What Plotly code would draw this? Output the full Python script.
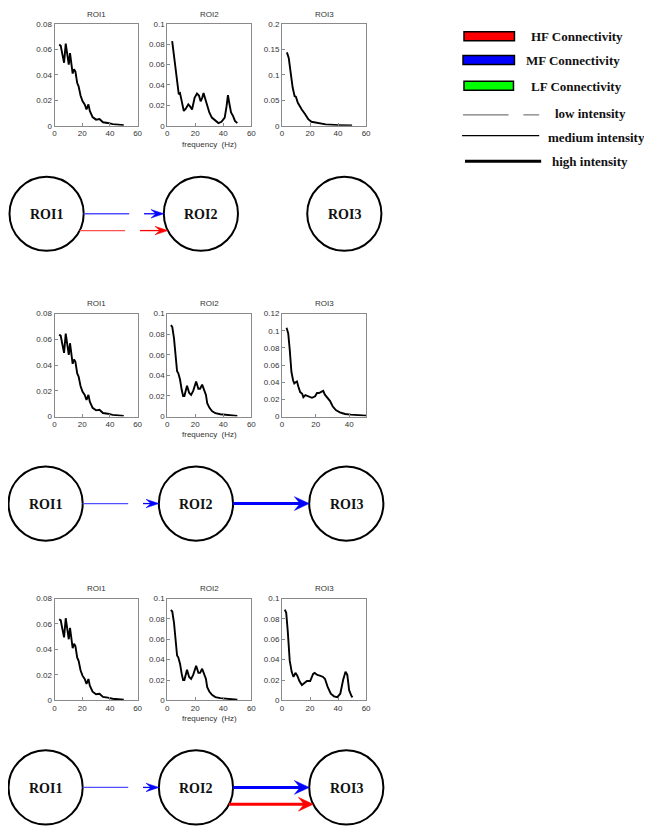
import plotly.graph_objects as go

# ---------------- data ----------------
roi1_freq = [3.4, 4.5, 5.5, 6.9, 8.1, 9.5, 10.3, 11.2, 12.2, 13.1, 14.1, 15.1, 16.4, 17.4,
             18.8, 20.2, 21.8, 23.1, 24.5, 25.5, 27.5, 30, 32.5, 35, 38.5, 42, 46, 50]
roi1_psd = [0.0637, 0.0628, 0.057, 0.0495, 0.0645, 0.0547, 0.048, 0.057, 0.050, 0.041,
            0.0444, 0.0426, 0.0335, 0.031, 0.0237, 0.0194, 0.0168, 0.0129, 0.0168, 0.0116,
            0.0068, 0.0048, 0.0052, 0.0027, 0.0022, 0.0013, 0.0009, 0.0005]

roi2_a_freq = [3.5, 4.8, 6.8, 8.2, 9.1, 10.3, 11.8, 13.2, 15, 16.4, 17.7, 19.5, 21.2, 22.6,
               23.8, 24.9, 25.9, 27.2, 28.5, 30, 31.8, 34.2, 36.5, 38.7, 41, 42.3, 43.3,
               44.2, 45.5, 46.9, 48.3, 50]
roi2_a_psd = [0.083, 0.068, 0.045, 0.031, 0.032, 0.024, 0.0145, 0.0168, 0.021, 0.0187,
              0.016, 0.0274, 0.0316, 0.0297, 0.024, 0.0274, 0.032, 0.026, 0.019, 0.013,
              0.008, 0.0048, 0.0026, 0.0039, 0.008, 0.019, 0.030, 0.0226, 0.013, 0.0097,
              0.0048, 0.0026]

roi2_b_freq = [2.6, 3.6, 4.8, 6, 7, 7.9, 9.1, 10.3, 11.3, 12.2, 14.1, 15.6, 17, 18.5, 20.6,
               22.2, 23.4, 24.9, 26.1, 27.6, 28.5, 30, 31.9, 34.3, 37.9, 41.5, 46.3, 50]
roi2_b_psd = [0.0888, 0.087, 0.076, 0.058, 0.044, 0.042, 0.036, 0.026, 0.020, 0.020, 0.030,
              0.023, 0.021, 0.025, 0.034, 0.027, 0.027, 0.031, 0.026, 0.021, 0.013, 0.0087,
              0.0054, 0.0032, 0.0022, 0.0019, 0.0013, 0.0006]

roi3_a_freq = [3.5, 4.8, 6.2, 7.6, 9, 9.9, 11.3, 12.7, 14.1, 16.4, 18.7, 21, 26.5, 31.2,
               40.4, 50]
roi3_a_psd = [0.144, 0.133, 0.104, 0.075, 0.058, 0.057, 0.045, 0.038, 0.032, 0.023, 0.013,
              0.0078, 0.0052, 0.0026, 0.0013, 0.0005]

roi3_b_freq = [2.7, 3.7, 4.6, 5.6, 6.6, 7.3, 8.1, 8.9, 9.7, 10.8, 12, 12.7, 13.9, 15.8, 17.8,
               19.7, 20.8, 22, 23.2, 24.5, 25.5, 27, 28.6, 30.1, 32, 34.4, 37.5, 40.9, 44.8, 50]
roi3_b_psd = [0.1035, 0.097, 0.078, 0.052, 0.042, 0.0386, 0.040, 0.041, 0.035, 0.0285,
              0.0266, 0.0225, 0.025, 0.0236, 0.0218, 0.0236, 0.0274, 0.0274, 0.029, 0.030,
              0.0255, 0.0218, 0.018, 0.012, 0.0075, 0.0049, 0.003, 0.0022, 0.0015, 0.0011]

roi3_c_freq = [2, 3, 4.1, 5.5, 6.9, 8.2, 9.6, 11, 12.4, 14.2, 16, 17.8, 20.1, 22.2, 23.3,
               25.2, 27.5, 29.3, 30.7, 32.5, 34.8, 37.1, 39.4, 41.6, 43.6, 45.3, 46.6, 47.9,
               49.5, 50.3]
roi3_c_psd = [0.089, 0.086, 0.068, 0.039, 0.028, 0.023, 0.027, 0.024, 0.019, 0.015, 0.017,
              0.019, 0.019, 0.026, 0.027, 0.025, 0.024, 0.023, 0.021, 0.0135, 0.0065, 0.004,
              0.0032, 0.0065, 0.020, 0.028, 0.025, 0.010, 0.0045, 0.003]

roi_names = ["ROI1", "ROI2", "ROI3"]
x_ticks = [0, 20, 40, 60]
x_label = "frequency  (Hz)"

# per row: (freq, psd) for ROI1..ROI3, y max, y tick step, x max
rows_data = [
    [(roi1_freq, roi1_psd), (roi2_a_freq, roi2_a_psd), (roi3_a_freq, roi3_a_psd)],
    [(roi1_freq, roi1_psd), (roi2_b_freq, roi2_b_psd), (roi3_b_freq, roi3_b_psd)],
    [(roi1_freq, roi1_psd), (roi2_b_freq, roi2_b_psd), (roi3_c_freq, roi3_c_psd)],
]
y_max = [[0.08, 0.1, 0.2], [0.08, 0.1, 0.12], [0.08, 0.1, 0.1]]
y_step = [[0.02, 0.02, 0.05], [0.02, 0.02, 0.02], [0.02, 0.02, 0.02]]
x_max = [[60, 60, 60], [60, 60, 50], [60, 60, 60]]

# connectivity per row: (source, target, band, intensity)
connections = [
    [("ROI1", "ROI2", "MF", "low"), ("ROI1", "ROI2", "HF", "low")],
    [("ROI1", "ROI2", "MF", "low"), ("ROI2", "ROI3", "MF", "high")],
    [("ROI1", "ROI2", "MF", "low"), ("ROI2", "ROI3", "MF", "high"), ("ROI2", "ROI3", "HF", "high")],
]
legend_bands = ["HF Connectivity", "MF Connectivity", "LF Connectivity"]
legend_intensity = ["low intensity", "medium intensity", "high intensity"]

# ---------------- layout constants (page pixels) ----------------
PAGE_W, PAGE_H = 652, 830
OFF = 8  # default body margin of the html page
W, H = PAGE_W - OFF, PAGE_H - OFF
col_px = [(53, 137), (167, 252), (283, 368)]
row_px = [(20, 123), (313, 417), (601, 704)]
title_y = [11, 303, 591]
xlabel_y = [142, 435, 722]
node_cx = [[45, 201, 346], [44, 196, 348], [44, 196, 348]]
node_cy = [212, 505, 792]
node_r = 37.5
band_color = {"HF": "#ff0000", "MF": "#0000ff", "LF": "#00ff00"}
band_light = {"HF": "rgb(255,80,80)", "MF": "rgb(80,80,255)", "LF": "rgb(80,255,80)"}
band_dy = {"MF": 0, "HF": 17, "LF": -17}

AX_COL = "#8a8a8a"
TXT_COL = "#333333"
SANS = "Liberation Sans, Arial, sans-serif"
SERIF = "Liberation Serif, Times New Roman, serif"


def px(x):
    return (x - OFF) / W


def py(y):
    return 1 - (y - OFF) / H


fig = go.Figure()
layout = {}
annotations = []
shapes = []

idx = 0
for r in range(3):
    for c in range(3):
        idx += 1
        sfx = "" if idx == 1 else str(idx)
        freq, psd = rows_data[r][c]
        fig.add_trace(go.Scatter(x=freq, y=psd, mode="lines",
                                 line=dict(color="black", width=1.9),
                                 xaxis="x" + sfx, yaxis="y" + sfx,
                                 showlegend=False, hoverinfo="skip"))
        ymax = y_max[r][c]
        step = y_step[r][c]
        n = int(round(ymax / step))
        yt = [round(k * step, 4) for k in range(n + 1)]
        ytt = ["0" if v == 0 else ("%g" % v) for v in yt]
        xt = [t for t in x_ticks if t <= x_max[r][c]]
        common = dict(showgrid=False, zeroline=False, showline=True, linecolor=AX_COL,
                      linewidth=1, mirror=True, ticks="inside", ticklen=3,
                      tickcolor=AX_COL, tickfont=dict(family=SANS, size=8, color=TXT_COL))
        layout["xaxis" + sfx] = dict(domain=[px(col_px[c][0]), px(col_px[c][1])],
                                     range=[0, x_max[r][c]], anchor="y" + sfx,
                                     tickvals=xt, ticktext=[str(t) for t in xt], **common)
        layout["yaxis" + sfx] = dict(domain=[py(row_px[r][1]), py(row_px[r][0])],
                                     range=[0, ymax], anchor="x" + sfx,
                                     tickvals=yt, ticktext=ytt, **common)
        annotations.append(dict(x=px((col_px[c][0] + col_px[c][1]) / 2), y=py(title_y[r]),
                                xref="paper", yref="paper", text=roi_names[c], showarrow=False,
                                font=dict(family=SANS, size=8, color=TXT_COL),
                                xanchor="center", yanchor="middle"))
    annotations.append(dict(x=px((col_px[1][0] + col_px[1][1]) / 2), y=py(xlabel_y[r]),
                            xref="paper", yref="paper", text=x_label, showarrow=False,
                            font=dict(family=SANS, size=8, color=TXT_COL),
                            xanchor="center", yanchor="middle"))


def line_shape(x0, y0, x1, y1, color, width):
    return dict(type="line", xref="paper", yref="paper", x0=px(x0), y0=py(y0),
                x1=px(x1), y1=py(y1), line=dict(color=color, width=width))


def head_shape(xt, y, L, Wd, color):
    pts = [(xt, y), (xt - L, y - Wd), (xt - 0.62 * L, y), (xt - L, y + Wd)]
    path = "M " + " L ".join("%.5f %.5f" % (px(a), py(b)) for a, b in pts) + " Z"
    return dict(type="path", xref="paper", yref="paper", path=path,
                fillcolor=color, line=dict(color=color, width=0.5))


# network diagrams
for r in range(3):
    cy = node_cy[r]
    for c in range(3):
        cx = node_cx[r][c]
        shapes.append(dict(type="circle", xref="paper", yref="paper",
                           x0=px(cx - node_r), x1=px(cx + node_r),
                           y0=py(cy + node_r), y1=py(cy - node_r),
                           line=dict(color="black", width=2), fillcolor="rgba(0,0,0,0)"))
        annotations.append(dict(x=px(cx), y=py(cy + 1), xref="paper", yref="paper",
                                text="<b>%s</b>" % roi_names[c], showarrow=False,
                                font=dict(family=SERIF, size=14, color="#111111"),
                                xanchor="center", yanchor="middle"))
    for src, dst, band, inten in connections[r]:
        s = roi_names.index(src)
        d = roi_names.index(dst)
        dy = band_dy[band]
        y = cy + dy
        off = (node_r ** 2 - dy ** 2) ** 0.5
        xs = node_cx[r][s] + off
        xe = node_cx[r][d] - off
        col = band_color[band]
        if inten == "low":
            shapes.append(line_shape(xs, y, xs + 46, y, band_light[band], 1.3))
            shapes.append(line_shape(xs + 61, y, xe - 8, y, col, 1.3))
            shapes.append(head_shape(xe, y, 13, 4.3, col))
        elif inten == "medium":
            shapes.append(line_shape(xs, y, xe - 8, y, col, 1.5))
            shapes.append(head_shape(xe, y, 13, 5, col))
        else:
            shapes.append(line_shape(xs, y, xe - 8, y, col, 3))
            shapes.append(head_shape(xe, y, 15, 7, col))

# legend (drawn)
box_y = [(28, 37), (52, 61), (78, 87)]
box_x = [(467, 518), (466, 518), (467, 517)]
text_x = [533, 528, 533]
bands = ["HF", "MF", "LF"]
for i, lab in enumerate(legend_bands):
    shapes.append(dict(type="rect", xref="paper", yref="paper",
                       x0=px(box_x[i][0]), x1=px(box_x[i][1]),
                       y0=py(box_y[i][1]), y1=py(box_y[i][0]),
                       fillcolor=band_color[bands[i]], line=dict(color="black", width=1.5)))
    annotations.append(dict(x=px(text_x[i]), y=py((box_y[i][0] + box_y[i][1]) / 2 + 0.5),
                            xref="paper", yref="paper", text="<b>%s</b>" % lab,
                            showarrow=False, font=dict(family=SERIF, size=13, color="#111111"),
                            xanchor="left", yanchor="middle"))

shapes.append(line_shape(466, 112, 512, 112, "#777777", 1.2))
shapes.append(line_shape(527, 112, 543, 112, "#777777", 1.2))
shapes.append(line_shape(465, 133, 543, 133, "black", 1.2))
shapes.append(line_shape(468, 159, 545, 159, "black", 3))
int_x = [557, 550, 554]
int_y = [111, 135, 159]
for i, lab in enumerate(legend_intensity):
    annotations.append(dict(x=px(int_x[i]), y=py(int_y[i]), xref="paper", yref="paper",
                            text="<b>%s</b>" % lab, showarrow=False,
                            font=dict(family=SERIF, size=13, color="#111111"),
                            xanchor="left", yanchor="middle"))

fig.update_layout(width=W, height=H, autosize=False,
                  margin=dict(l=0, r=0, t=0, b=0, pad=0),
                  paper_bgcolor="white", plot_bgcolor="white",
                  showlegend=False, annotations=annotations, shapes=shapes, **layout)

fig.write_html("out.html")
